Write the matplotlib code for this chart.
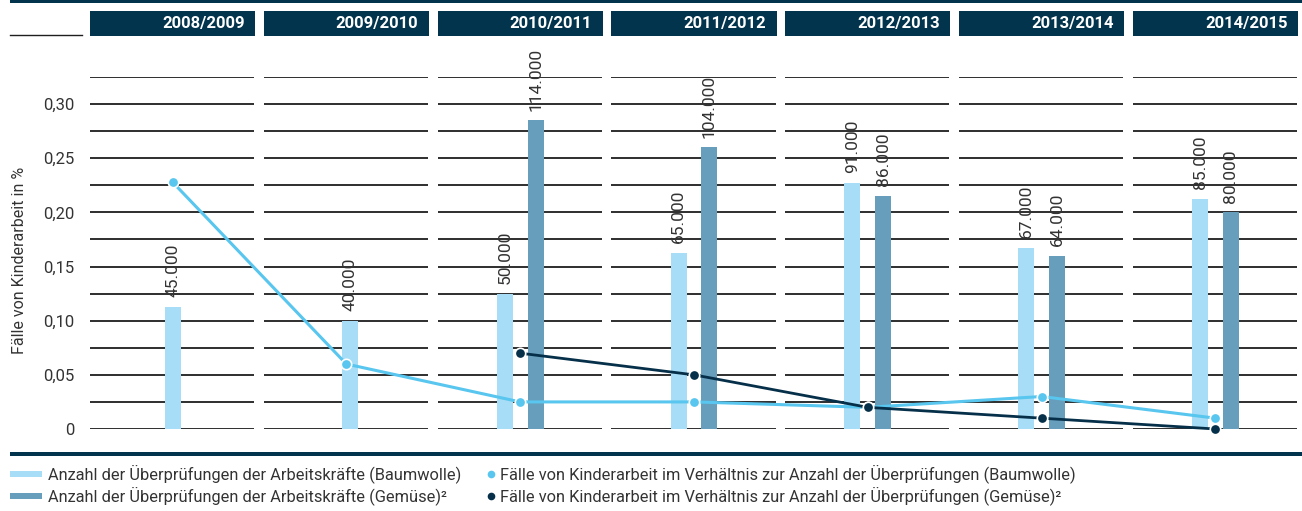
import matplotlib
matplotlib.use("Agg")
import matplotlib.pyplot as plt
from matplotlib.patches import Rectangle
from matplotlib.lines import Line2D
from matplotlib.transforms import blended_transform_factory
import numpy as np

plt.rcParams['font.family'] = ['Roboto', 'DejaVu Sans']

# ---- data ----
seasons = ["2008/2009", "2009/2010", "2010/2011", "2011/2012", "2012/2013", "2013/2014", "2014/2015"]
checks_cotton = [45000, 40000, 50000, 65000, 91000, 67000, 85000]
checks_veg = [None, None, 114000, 104000, 86000, 64000, 80000]
rate_cotton = [0.228, 0.060, 0.025, 0.025, 0.020, 0.030, 0.010]
rate_veg = [None, None, 0.070, 0.050, 0.020, 0.010, 0.000]
yticks = [0, 0.05, 0.10, 0.15, 0.20, 0.25, 0.30]
ytick_labels = ["0", "0,05", "0,10", "0,15", "0,20", "0,25", "0,30"]
legend_labels = [
    "Anzahl der Überprüfungen der Arbeitskräfte (Baumwolle)",
    "Anzahl der Überprüfungen der Arbeitskräfte (Gemüse)²",
    "Fälle von Kinderarbeit im Verhältnis zur Anzahl der Überprüfungen (Baumwolle)",
    "Fälle von Kinderarbeit im Verhältnis zur Anzahl der Überprüfungen (Gemüse)²",
]

# ---- style ----
C_NAVY = "#02344d"
C_BAR_L = "#a7ddf6"
C_BAR_D = "#669ebb"
C_LINE_L = "#58c6ee"
C_LINE_D = "#06304a"
C_TEXT = "#333333"
C_GRID = "#1e1e1e"

W, H = 1302, 511
fig = plt.figure(figsize=(W / 100, H / 100), dpi=100)

def fx(px):
    return px / W

def fy(py):
    return 1 - py / H

half = 0.4747
n = len(seasons)
ax_left, ax_right = 90, 1298
ax_top, ax_bot = 77, 429
ax = fig.add_axes([fx(ax_left), fy(ax_bot), fx(ax_right - ax_left), (ax_bot - ax_top) / H])
ax.set_xlim(-half, n - 1 + half)
ymax = 0.325
ax.set_ylim(0, ymax)
for s in ax.spines.values():
    s.set_visible(False)
ax.set_xticks([])
ax.set_yticks(yticks)
ax.set_yticklabels(ytick_labels, fontsize=12, color=C_TEXT)
ax.tick_params(axis='y', length=0, pad=11)
ax.patch.set_alpha(0)

# gridlines per panel
grid_vals = np.arange(0, ymax + 1e-9, 0.025)
for i in range(n):
    ax.hlines(grid_vals, i - half, i + half - 0.005, colors=C_GRID, lw=1.3, zorder=1)

# bars on a twin axis (counts)
ax2 = ax.twinx()
ax2.set_ylim(0, ymax * 400000)
ax2.set_axis_off()
ax2.patch.set_alpha(0)
bw = 0.092
off = 0.089
for i in range(n):
    c = checks_cotton[i]
    v = checks_veg[i]
    if v is None:
        xc = i + (0.02 if i == 1 else 0)
        positions = [(xc, c, C_BAR_L)]
    else:
        positions = [(i - off, c, C_BAR_L), (i + off, v, C_BAR_D)]
    for xp, val, col in positions:
        ax2.bar(xp, val, width=bw, color=col, zorder=2)
        lab = f"{val:,}".replace(",", ".")
        ax2.annotate(lab, (xp, val), xytext=(0, 7), textcoords="offset points",
                     rotation=90, ha="center", va="bottom", fontsize=12.5,
                     color=C_TEXT, annotation_clip=False)

# lines on top
ax3 = ax.twinx()
ax3.set_ylim(0, ymax)
ax3.set_axis_off()
ax3.patch.set_alpha(0)
xs = np.arange(n)
ax3.plot(xs, rate_cotton, color=C_LINE_L, lw=2.2, marker='o', ms=7.5,
         markerfacecolor=C_LINE_L, markeredgecolor='white', markeredgewidth=1.2,
         clip_on=False, zorder=3)
xv = [x for x, v in zip(xs, rate_veg) if v is not None]
yv = [v for v in rate_veg if v is not None]
ax3.plot(xv, yv, color=C_LINE_D, lw=2.0, marker='o', ms=7.5,
         markerfacecolor=C_LINE_D, markeredgecolor='white', markeredgewidth=1.2,
         clip_on=False, zorder=4)
ax.set_xlim(-half, n - 1 + half)
ax2.set_xlim(-half, n - 1 + half)
ax3.set_xlim(-half, n - 1 + half)

# header boxes
bt = blended_transform_factory(ax.transData, fig.transFigure)
for i, s in enumerate(seasons):
    ax.add_patch(Rectangle((i - half, fy(36)), 2 * half, (36 - 11) / H,
                           transform=bt, facecolor=C_NAVY, edgecolor='none', clip_on=False))
    ax.text(i + half - 0.06, fy(23.5), s, transform=bt, ha='right', va='center',
            color='white', fontsize=12, fontweight='bold', clip_on=False)

# top/bottom bands and small line
fig.add_artist(Rectangle((fx(10), fy(3)), fx(W - 10), 3 / H, transform=fig.transFigure,
                         facecolor=C_NAVY, edgecolor='none'))
fig.add_artist(Rectangle((fx(10), fy(455.5)), fx(W - 10), 3.5 / H, transform=fig.transFigure,
                         facecolor=C_NAVY, edgecolor='none'))
fig.add_artist(Line2D([fx(10), fx(82)], [fy(35), fy(35)], transform=fig.transFigure,
                      color=C_GRID, lw=1.0))

# y label
fig.text(fx(20), fy(260), "Fälle von Kinderarbeit in %", rotation=90, ha='center', va='center',
         fontsize=11.5, color=C_TEXT)

# legend
rows = [474, 496]
for r, lab, col in zip(rows, legend_labels[:2], [C_BAR_L, C_BAR_D]):
    fig.add_artist(Rectangle((fx(10), fy(r + 3)), fx(32), 6 / H, transform=fig.transFigure,
                             facecolor=col, edgecolor='none'))
    fig.text(fx(48), fy(r), lab, ha='left', va='center', fontsize=11.8, color=C_TEXT)
for r, lab, col in zip(rows, legend_labels[2:], [C_LINE_L, C_LINE_D]):
    fig.add_artist(Line2D([fx(491)], [fy(r)], transform=fig.transFigure, marker='o',
                          ms=5.5, color=col, markeredgecolor='none', linestyle='none'))
    fig.text(fx(500), fy(r), lab, ha='left', va='center', fontsize=11.8, color=C_TEXT)

fig.savefig("out.png", dpi=100)
